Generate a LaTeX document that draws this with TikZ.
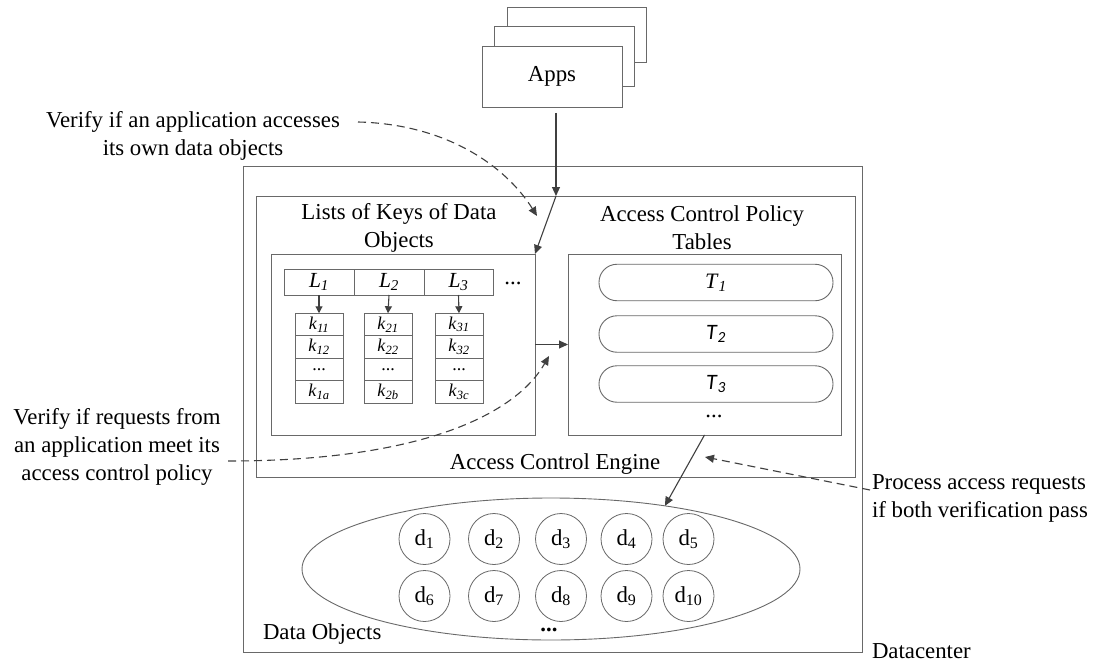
\documentclass[tikz,border=0pt]{standalone}
\usepackage{fontspec}
\setmainfont{Liberation Serif}
\newfontfamily\calib{Carlito}
\usetikzlibrary{arrows.meta,shapes.geometric}
\definecolor{boxc}{RGB}{105,105,105}
\definecolor{arrc}{RGB}{64,64,64}
\begin{document}
\begin{tikzpicture}[x=1pt,y=-1pt,
  every node/.style={font=\fontsize{22.8}{28}\selectfont, inner sep=0pt, outer sep=0pt},
  bx/.style={draw=boxc, line width=0.9pt, fill=white, rectangle},
  kcell/.style={bx, minimum width=48, minimum height=22.5, font=\fontsize{18}{20}\selectfont},
  lcell/.style={bx, minimum height=26, font=\fontsize{21.5}{24}\selectfont},
  pill/.style={draw=boxc, line width=0.9pt, rectangle, rounded corners=18pt, minimum width=234, minimum height=36.5, font=\calib\fontsize{22}{24}\selectfont},
  dn/.style={draw=boxc, line width=0.8pt, circle, minimum size=51},
  arr/.style={draw=arrc, line width=1.1pt, -{Triangle[length=9pt,width=8pt]}},
  arrs/.style={draw=arrc, line width=1.1pt, -{Triangle[length=7pt,width=7pt]}},
  dsh/.style={arr, dash pattern=on 8pt off 5pt}]
\useasboundingbox (0,0) rectangle (1099,663);

% containers
\node[bx, minimum width=619, minimum height=486] (dc) at (552.5,409) {};
\node[bx, minimum width=599, minimum height=281] (eng) at (555.5,336.5) {};
\node (engl) at (555,464) {Access Control Engine};
\node[bx, minimum width=264, minimum height=181] (lists) at (403,344.5) {};
\node[bx, minimum width=273, minimum height=181] (pol) at (704.5,344.5) {};
\node[align=center] (liststitle) at (399,228) {Lists of Keys of Data\\Objects};
\node[align=center] (poltitle) at (702,228) {Access Control Policy\\Tables};

% apps
\node[bx, minimum width=139, minimum height=55] (a3) at (576.5,34.5) {};
\node[bx, minimum width=140, minimum height=60] (a2) at (564,56) {};
\node[bx, minimum width=140, minimum height=61] (a1) at (552,76.5) {Apps};
\coordinate (ein) at (556,196);
\draw[arr] ([xshift=4pt,yshift=-6pt]a1.south) -- (ein);
\draw[arr] (ein) -- (lists.north east);

% lists
\node[lcell, minimum width=70] (L1) at (319,282) {\textit{L}\textsubscript{\textit{1}}};
\node[lcell, minimum width=70] (L2) at (389,282) {\textit{L}\textsubscript{\textit{2}}};
\node[lcell, minimum width=69] (L3) at (458.5,282) {\textit{L}\textsubscript{\textit{3}}};
\node (ldots) at (513,283) {...};

\node[kcell] (k11) at (319,324.5) {\textit{k}\textsubscript{\textit{11}}};
\node[kcell] (k12) at (319,347) {\textit{k}\textsubscript{\textit{12}}};
\node[kcell] (k13) at (319,369.5) {...};
\node[kcell] (k14) at (319,392) {\textit{k}\textsubscript{\textit{1a}}};
\node[kcell] (k21) at (388,324.5) {\textit{k}\textsubscript{\textit{21}}};
\node[kcell] (k22) at (388,347) {\textit{k}\textsubscript{\textit{22}}};
\node[kcell] (k23) at (388,369.5) {...};
\node[kcell] (k24) at (388,392) {\textit{k}\textsubscript{\textit{2b}}};
\node[kcell] (k31) at (459,324.5) {\textit{k}\textsubscript{\textit{31}}};
\node[kcell] (k32) at (459,347) {\textit{k}\textsubscript{\textit{32}}};
\node[kcell] (k33) at (459,369.5) {...};
\node[kcell] (k34) at (459,392) {\textit{k}\textsubscript{\textit{3c}}};
\draw[arrs] (L1.south) -- (k11.north);
\draw[arrs] (L2.south) -- (k21.north);
\draw[arrs] (L3.south) -- (k31.north);

\draw[arr] (lists.east) -- (pol.west);

% policy tables
\node[pill] (T1) at (716,282.5) {\fontspec{Liberation Serif}\textit{T}\textsubscript{\textit{1}}};
\node[pill] (T2) at (716,334) {\textit{T}\textsubscript{\textit{2}}};
\node[pill] (T3) at (716,384) {\textit{T}\textsubscript{\textit{3}}};
\node (tdots) at (714,416) {...};

% data objects
\node[draw=boxc, ellipse, line width=0.9pt, minimum width=498, minimum height=142] (dobj) at (551,569) {};
\draw[arr] (pol.south) -- (dobj.29);
\node[dn] (d1) at (424.5,539) {d\textsubscript{1}};
\node[dn] (d2) at (494,539) {d\textsubscript{2}};
\node[dn] (d3) at (561,539) {d\textsubscript{3}};
\node[dn] (d4) at (626.5,539) {d\textsubscript{4}};
\node[dn] (d5) at (688.5,539) {d\textsubscript{5}};
\node[dn] (d6) at (424.5,596) {d\textsubscript{6}};
\node[dn] (d7) at (494,596) {d\textsubscript{7}};
\node[dn] (d8) at (561,596) {d\textsubscript{8}};
\node[dn] (d9) at (626.5,596) {d\textsubscript{9}};
\node[dn] (d10) at (688.5,596) {d\textsubscript{10}};
\node (ddots) at (549,630) {\textbf{...}};
\node[anchor=west] (dol) at (263,634) {Data Objects};
\node[anchor=west] (dcl) at (872,651) {Datacenter};

% annotations
\node[align=center] (v1) at (193,136) {Verify if an application accesses\\its own data objects};
\node[align=center] (v2) at (117,446.5) {Verify if requests from\\an application meet its\\access control policy};
\node[align=left, anchor=west] (v3) at (872,498.5) {Process access requests\\if both verification pass};

\coordinate (d1s) at (358,122);
\coordinate (d1e) at (537,216);
\draw[dsh] (d1s) .. controls (445,124) and (505,165) .. (d1e);
\coordinate (d2s) at (228,461);
\coordinate (d2e) at (549,356);
\draw[dsh] (d2s) .. controls (420,461) and (515,415) .. (d2e);
\coordinate (d3s) at (870,490);
\coordinate (d3e) at (705,457);
\draw[dsh] (d3s) -- (d3e);
\end{tikzpicture}
\end{document}
